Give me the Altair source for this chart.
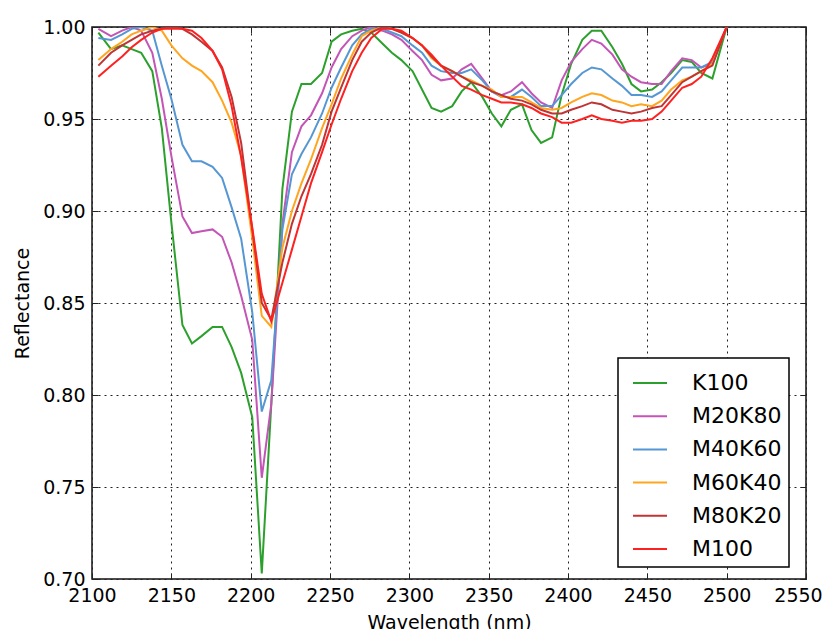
import altair as alt
import pandas as pd

wavelength = [2104, 2112, 2119, 2125, 2131, 2138, 2144, 2150, 2157, 2163,
              2169, 2176, 2182, 2188, 2194, 2201, 2207, 2213, 2220, 2226,
              2232, 2238, 2245, 2251, 2257, 2264, 2270, 2276, 2283, 2289,
              2295, 2302, 2308, 2314, 2320, 2327, 2333, 2339, 2346, 2352,
              2358, 2364, 2371, 2377, 2383, 2390, 2396, 2402, 2409, 2415,
              2421, 2428, 2434, 2440, 2446, 2453, 2459, 2465, 2472, 2478,
              2484, 2491, 2500]

k100 = [0.997, 0.988, 0.990, 0.988, 0.986, 0.976, 0.945, 0.894, 0.838, 0.828,
        0.832, 0.837, 0.837, 0.826, 0.812, 0.788, 0.703, 0.795, 0.912, 0.954,
        0.969, 0.969, 0.975, 0.992, 0.996, 0.998, 0.999, 0.997, 0.991, 0.986,
        0.982, 0.976, 0.966, 0.956, 0.954, 0.957, 0.965, 0.970, 0.962, 0.953,
        0.946, 0.955, 0.958, 0.944, 0.937, 0.940, 0.963, 0.980, 0.993, 0.998,
        0.998, 0.989, 0.980, 0.969, 0.965, 0.966, 0.970, 0.975, 0.982, 0.981,
        0.975, 0.972, 1.000]

m20k80 = [0.999, 0.995, 0.998, 1.000, 0.998, 0.986, 0.961, 0.930, 0.897, 0.888,
          0.889, 0.890, 0.886, 0.872, 0.854, 0.830, 0.755, 0.795, 0.893, 0.932,
          0.946, 0.952, 0.964, 0.978, 0.988, 0.995, 0.998, 1.000, 0.998, 0.996,
          0.993, 0.987, 0.982, 0.974, 0.971, 0.972, 0.977, 0.980, 0.972, 0.965,
          0.963, 0.965, 0.970, 0.964, 0.959, 0.956, 0.971, 0.981, 0.988, 0.993,
          0.991, 0.985, 0.977, 0.973, 0.970, 0.969, 0.969, 0.976, 0.983, 0.982,
          0.978, 0.980, 1.000]

m40k60 = [0.994, 0.993, 0.996, 0.999, 1.000, 0.998, 0.979, 0.961, 0.936, 0.927,
          0.927, 0.924, 0.918, 0.902, 0.885, 0.845, 0.791, 0.808, 0.890, 0.920,
          0.931, 0.940, 0.953, 0.967, 0.978, 0.990, 0.996, 0.999, 0.999, 0.997,
          0.995, 0.990, 0.986, 0.979, 0.976, 0.975, 0.975, 0.977, 0.971, 0.965,
          0.962, 0.962, 0.966, 0.962, 0.957, 0.957, 0.963, 0.969, 0.975, 0.978,
          0.977, 0.972, 0.968, 0.963, 0.963, 0.962, 0.965, 0.971, 0.978, 0.978,
          0.978, 0.981, 1.000]

m60k40 = [0.982, 0.988, 0.992, 0.996, 0.998, 1.000, 0.998, 0.990, 0.983, 0.979,
          0.976, 0.970, 0.960, 0.948, 0.930, 0.885, 0.843, 0.837, 0.880, 0.900,
          0.915, 0.928, 0.945, 0.958, 0.972, 0.985, 0.995, 0.998, 1.000, 0.999,
          0.997, 0.994, 0.990, 0.983, 0.979, 0.976, 0.973, 0.971, 0.968, 0.966,
          0.962, 0.962, 0.962, 0.959, 0.956, 0.955, 0.956, 0.959, 0.962, 0.964,
          0.963, 0.960, 0.959, 0.957, 0.958, 0.957, 0.960, 0.966, 0.971, 0.973,
          0.976, 0.980, 1.000]

m80k20 = [0.979, 0.986, 0.990, 0.993, 0.996, 0.998, 0.999, 1.000, 0.999, 0.996,
          0.992, 0.987, 0.978, 0.962, 0.937, 0.890, 0.850, 0.841, 0.872, 0.893,
          0.908, 0.920, 0.936, 0.954, 0.967, 0.982, 0.992, 0.997, 1.000, 0.999,
          0.997, 0.994, 0.990, 0.984, 0.979, 0.976, 0.973, 0.970, 0.968, 0.965,
          0.963, 0.961, 0.960, 0.958, 0.955, 0.953, 0.953, 0.955, 0.957, 0.959,
          0.958, 0.955, 0.954, 0.953, 0.954, 0.956, 0.957, 0.963, 0.970, 0.973,
          0.976, 0.979, 1.000]

m100 = [0.973, 0.979, 0.984, 0.989, 0.993, 0.997, 0.999, 0.999, 0.999, 0.998,
        0.994, 0.987, 0.977, 0.957, 0.929, 0.891, 0.855, 0.840, 0.861, 0.879,
        0.897, 0.915, 0.932, 0.947, 0.961, 0.976, 0.986, 0.994, 0.999, 0.999,
        0.998, 0.994, 0.990, 0.985, 0.979, 0.973, 0.968, 0.966, 0.963, 0.961,
        0.959, 0.959, 0.958, 0.956, 0.953, 0.951, 0.948, 0.948, 0.950, 0.952,
        0.950, 0.949, 0.948, 0.949, 0.949, 0.950, 0.954, 0.960, 0.967, 0.969,
        0.973, 0.983, 1.000]

series_names = ["K100", "M20K80", "M40K60", "M60K40", "M80K20", "M100"]
series_values = [k100, m20k80, m40k60, m60k40, m80k20, m100]
series_colors = ["#2ca02c", "#c355b6", "#5597d3", "#ffa51f", "#bf3434", "#ff2020"]

x_ticks = [2100, 2150, 2200, 2250, 2300, 2350, 2400, 2450, 2500, 2550]
y_ticks = [0.70, 0.75, 0.80, 0.85, 0.90, 0.95, 1.00]

rows = []
for name, vals in zip(series_names, series_values):
    for w, v in zip(wavelength, vals):
        rows.append({"wl": w, "refl": v, "series": name})
df = pd.DataFrame(rows)

xscale = alt.Scale(domain=[2100, 2550], nice=False, zero=False)
yscale = alt.Scale(domain=[0.70, 1.00], nice=False, zero=False)

common_axis = dict(domain=False, ticks=True, tickSize=6, offset=-6,
                   tickColor="#222", tickWidth=1,
                   labelFlush=False, labelBound=False, labelOverlap=False)

lines = alt.Chart(df).mark_line(strokeWidth=2, clip=True).encode(
    x=alt.X("wl:Q", scale=xscale,
            axis=alt.Axis(orient="bottom", values=x_ticks, format="d",
                          title="Wavelength (nm)", grid=True,
                          gridDash=[2, 4], gridColor="#222", gridWidth=1,
                          labelPadding=7, titlePadding=8,
                          labelOffset={"condition": {"test": "datum.value == 2550", "value": -8},
                                       "value": 0},
                          **common_axis)),
    y=alt.Y("refl:Q", scale=yscale,
            axis=alt.Axis(orient="left", values=y_ticks, format=".2f",
                          title="Reflectance", grid=True,
                          gridDash=[2, 4], gridColor="#222", gridWidth=1,
                          labelPadding=7, titlePadding=10, **common_axis)),
    color=alt.Color("series:N",
                    scale=alt.Scale(domain=series_names, range=series_colors),
                    legend=alt.Legend(title=None, orient="none",
                                      legendX=526, legendY=331)),
)

tick_layer = alt.Chart(df).mark_point(opacity=0).encode(
    x=alt.X("wl:Q", scale=xscale,
            axis=alt.Axis(orient="top", values=x_ticks, labels=False,
                          grid=False, title=None, **common_axis)),
    y=alt.Y("refl:Q", scale=yscale,
            axis=alt.Axis(orient="right", values=y_ticks, labels=False,
                          grid=False, title=None, **common_axis)),
)

chart = alt.layer(lines, tick_layer).resolve_axis(
    x="independent", y="independent"
).properties(
    width=714, height=552,
    autosize=alt.AutoSizeParams(type="none"),
    padding={"left": 84, "top": 19, "right": 16, "bottom": 50},
).configure_view(
    stroke="#111", strokeWidth=1.5
).configure_axis(
    labelFont="DejaVu Sans", labelFontSize=19, labelColor="black",
    titleFont="DejaVu Sans", titleFontSize=19, titleColor="black",
    titleFontWeight="normal"
).configure_legend(
    strokeColor="black", strokeWidth=1.5, fillColor="white", padding=7,
    cornerRadius=0, symbolType="stroke", symbolSize=1156,
    symbolStrokeWidth=2, symbolOffset=7, labelOffset=24,
    labelFont="DejaVu Sans", labelFontSize=22, labelColor="black",
    rowPadding=4.2
)

chart.save("out.html", embed_options={"renderer": "svg", "actions": False})
